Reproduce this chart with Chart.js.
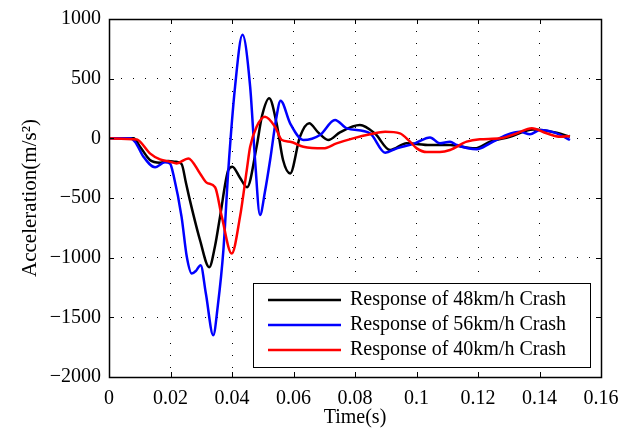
<!DOCTYPE html>
<html>
<head>
<meta charset="utf-8">
<script src="https://cdn.jsdelivr.net/npm/chart.js@4/dist/chart.umd.min.js"></script>
<style>
html,body{margin:0;padding:0;background:#fff;}
#wrap{width:624px;height:433px;}
</style>
</head>
<body>
<div id="wrap"><canvas id="c" width="624" height="433"></canvas></div>
<script>
// ---- data (time in s, acceleration in m/s^2) ----
const t48 = [0, 0.008, 0.0101, 0.0133, 0.0166, 0.0192, 0.0215, 0.0236, 0.025, 0.0263, 0.0296, 0.0326, 0.0345, 0.0361, 0.0388, 0.0401, 0.0426, 0.0449, 0.0480, 0.0497, 0.0521, 0.0545, 0.0566, 0.0589, 0.0621, 0.0651, 0.0680, 0.0713, 0.0751, 0.0816, 0.0865, 0.0914, 0.0968, 0.1044, 0.1109, 0.1190, 0.1239, 0.1304, 0.1379, 0.1456, 0.1499];
const a48 = [0, 0, -70, -181, -204, -190, -196, -215, -370, -518, -853, -1080, -900, -658, -266, -238, -330, -410, -70, 181, 336, 126, -182, -294, 13, 126, 50, -14, 50, 112, 40, -98, -42, -56, -56, -84, -28, 13, 75, 47, 13];

const t56 = [0, 0.0068, 0.0085, 0.0112, 0.0150, 0.0182, 0.0198, 0.0211, 0.0236, 0.0253, 0.0269, 0.0283, 0.0298, 0.0315, 0.0339, 0.0354, 0.0372, 0.0388, 0.0410, 0.0434, 0.0459, 0.0475, 0.0491, 0.0507, 0.0524, 0.0543, 0.0558, 0.0589, 0.0632, 0.0686, 0.0735, 0.0773, 0.0849, 0.0898, 0.0936, 0.0995, 0.1044, 0.1076, 0.1109, 0.1131, 0.1196, 0.1239, 0.1293, 0.1337, 0.1369, 0.1402, 0.1456, 0.1499];
const a56 = [0, 0, -30, -154, -243, -201, -210, -322, -658, -993, -1133, -1110, -1063, -1300, -1650, -1400, -937, -266, 433, 867, 433, -182, -643, -450, -182, 154, 315, 126, -14, 28, 154, 84, 42, -120, -84, -42, 8, -42, -28, -56, -92, -42, 28, 55, 34, 70, 42, -14];

const t40 = [0, 0.0091, 0.0101, 0.0133, 0.0166, 0.0198, 0.0220, 0.0258, 0.0296, 0.0318, 0.0345, 0.0367, 0.0399, 0.0426, 0.0448, 0.0459, 0.0480, 0.0507, 0.0540, 0.0562, 0.0589, 0.0632, 0.0697, 0.0740, 0.0794, 0.0849, 0.0898, 0.0946, 0.0979, 0.1001, 0.1033, 0.1076, 0.1109, 0.1163, 0.1206, 0.1272, 0.1326, 0.1375, 0.1423, 0.1467, 0.1499];
const a40 = [0, -10, -28, -126, -176, -196, -210, -168, -294, -372, -410, -658, -965, -658, -266, -70, 97, 181, 97, -14, -28, -70, -84, -42, 0, 34, 55, 42, -28, -84, -115, -115, -98, -28, -8, 0, 42, 84, 42, 13, 20];

const seriesLabels = ['Response of 48km/h Crash', 'Response of 56km/h Crash', 'Response of 40km/h Crash'];
const xTicks = [0, 0.02, 0.04, 0.06, 0.08, 0.1, 0.12, 0.14, 0.16];
const yTicks = [-2000, -1500, -1000, -500, 0, 500, 1000];
const xTitle = 'Time(s)';
const yTitle = 'Acceleration(m/s\u00B2)';

const pts = (t, a) => t.map((v, i) => ({x: v, y: a[i]}));
const FONT = 'Liberation Serif';

const ds = (label, t, a, color, order) => ({
  label, data: pts(t, a), borderColor: color, backgroundColor: color,
  borderWidth: 2.5, pointRadius: 0, showLine: true, fill: false,
  cubicInterpolationMode: 'monotone', order
});

const framePlugin = {
  id: 'frame',
  afterDatasetsDraw(chart) {
    const {ctx, chartArea: ca, scales} = chart;
    ctx.save();
    ctx.strokeStyle = '#000';
    ctx.lineWidth = 1;
    const tl = 5;
    ctx.beginPath();
    scales.x.ticks.forEach(tk => {
      const px = Math.round(scales.x.getPixelForValue(tk.value)) + 0.5;
      ctx.moveTo(px, ca.bottom); ctx.lineTo(px, ca.bottom - tl);
      ctx.moveTo(px, ca.top); ctx.lineTo(px, ca.top + tl);
    });
    scales.y.ticks.forEach(tk => {
      const py = Math.round(scales.y.getPixelForValue(tk.value)) + 0.5;
      ctx.moveTo(ca.left, py); ctx.lineTo(ca.left + tl, py);
      ctx.moveTo(ca.right, py); ctx.lineTo(ca.right - tl, py);
    });
    ctx.stroke();
    ctx.lineWidth = 1.5;
    ctx.strokeRect(Math.round(ca.left) + 0.5, Math.round(ca.top) + 0.5, Math.round(ca.right - ca.left), Math.round(ca.bottom - ca.top));
    ctx.restore();
  },
  afterDraw(chart) {
    const {ctx, chartArea: ca} = chart;
    // legend box in lower right of the plot area
    const bx = ca.right - 348, by = ca.bottom - 94, bw = 337, bh = 84;
    ctx.save();
    ctx.fillStyle = '#fff';
    ctx.fillRect(bx, by, bw, bh);
    ctx.strokeStyle = '#000';
    ctx.lineWidth = 1;
    ctx.strokeRect(Math.round(bx) + 0.5, Math.round(by) + 0.5, bw, bh);
    const items = [0, 1, 2].map(i => chart.data.datasets.find(d => d.label === seriesLabels[i]));
    ctx.font = '20px "' + FONT + '"';
    ctx.textBaseline = 'middle';
    ctx.textAlign = 'left';
    items.forEach((d, i) => {
      const y = by + 17 + i * 25;
      ctx.strokeStyle = d.borderColor;
      ctx.lineWidth = 2.5;
      ctx.beginPath();
      ctx.moveTo(bx + 15, y); ctx.lineTo(bx + 88, y);
      ctx.stroke();
      ctx.fillStyle = '#000';
      ctx.fillText(d.label, bx + 97, y);
    });
    ctx.restore();
  }
};

const fmtX = v => Number(v.toFixed(2)).toString();
const fmtY = v => v < 0 ? '\u2212' + Math.abs(v) : String(v);

new Chart(document.getElementById('c'), {
  type: 'scatter',
  data: {
    datasets: [
      ds(seriesLabels[0], t48, a48, '#000000', 2),
      ds(seriesLabels[1], t56, a56, '#0000ff', 1),
      ds(seriesLabels[2], t40, a40, '#ff0000', 0)
    ]
  },
  options: {
    responsive: false,
    devicePixelRatio: 1,
    animation: false,
    layout: {padding: {left: 0, right: 23, top: 19, bottom: 0}},
    plugins: {legend: {display: false}, tooltip: {enabled: false}},
    scales: {
      x: {
        type: 'linear', min: 0, max: 0.16,
        afterBuildTicks: s => { s.ticks = xTicks.map(v => ({value: v})); },
        afterFit: s => { s.height = 56; s.paddingRight = 0; s.paddingLeft = 0; },
        ticks: {color: '#000', font: {family: FONT, size: 20}, padding: 10, maxRotation: 0, autoSkip: false, callback: fmtX},
        grid: {color: '#000', lineWidth: 1, drawTicks: false},
        border: {display: false, dash: [1, 11]},
        title: {display: true, text: xTitle, color: '#000', font: {family: FONT, size: 20}, padding: {top: 0, bottom: 3}}
      },
      y: {
        type: 'linear', min: -2000, max: 1000,
        afterBuildTicks: s => { s.ticks = yTicks.map(v => ({value: v})); },
        afterFit: s => { s.width = 109; s.paddingTop = 0; s.paddingBottom = 0; },
        ticks: {color: '#000', font: {family: FONT, size: 20}, padding: 8, autoSkip: false, callback: fmtY},
        grid: {color: '#000', lineWidth: 1, drawTicks: false},
        border: {display: false, dash: [1, 11]},
        title: {display: true, text: yTitle, color: '#000', font: {family: FONT, size: 21}, padding: {top: 18, bottom: 0}}
      }
    }
  },
  plugins: [framePlugin]
});
</script>
</body>
</html>
